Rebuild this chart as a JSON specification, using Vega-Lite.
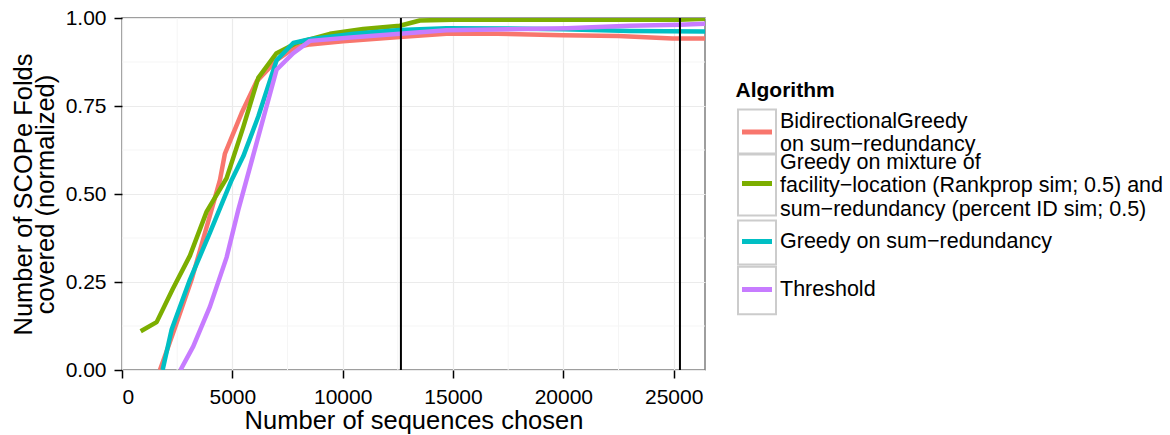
{
  "$schema": "https://vega.github.io/schema/vega-lite/v6.json",
  "width": 583,
  "height": 352,
  "autosize": {"type": "none"},
  "padding": {"left": 122, "top": 18, "right": 465, "bottom": 65},
  "background": "white",
  "config": {
    "font": "Liberation Sans",
    "view": {"stroke": "#7f7f7f", "strokeWidth": 1.5},
    "axis": {
      "domain": false,
      "gridColor": "#ebebeb",
      "gridWidth": 1.2,
      "tickColor": "black",
      "tickSize": 8,
      "tickWidth": 1.5,
      "labelColor": "black",
      "labelFontSize": 21,
      "labelFont": "Liberation Sans",
      "labelPadding": 8,
      "titleColor": "black",
      "titleFontSize": 25.5,
      "titleFontWeight": "normal",
      "titleFont": "Liberation Sans"
    },
    "legend": {
      "titleFont": "Liberation Sans",
      "labelFont": "Liberation Sans"
    }
  },
  "datasets": {
    "curves": [
      {"n": 1720, "v": 0.0, "a": "BidirectionalGreedy on sum−redundancy"},
      {"n": 2400, "v": 0.12, "a": "BidirectionalGreedy on sum−redundancy"},
      {"n": 3155, "v": 0.257, "a": "BidirectionalGreedy on sum−redundancy"},
      {"n": 3900, "v": 0.42, "a": "BidirectionalGreedy on sum−redundancy"},
      {"n": 4440, "v": 0.54, "a": "BidirectionalGreedy on sum−redundancy"},
      {"n": 4665, "v": 0.615, "a": "BidirectionalGreedy on sum−redundancy"},
      {"n": 5420, "v": 0.73, "a": "BidirectionalGreedy on sum−redundancy"},
      {"n": 6100, "v": 0.82, "a": "BidirectionalGreedy on sum−redundancy"},
      {"n": 7005, "v": 0.88, "a": "BidirectionalGreedy on sum−redundancy"},
      {"n": 7800, "v": 0.915, "a": "BidirectionalGreedy on sum−redundancy"},
      {"n": 8515, "v": 0.925, "a": "BidirectionalGreedy on sum−redundancy"},
      {"n": 10020, "v": 0.934, "a": "BidirectionalGreedy on sum−redundancy"},
      {"n": 12590, "v": 0.946, "a": "BidirectionalGreedy on sum−redundancy"},
      {"n": 14700, "v": 0.955, "a": "BidirectionalGreedy on sum−redundancy"},
      {"n": 17000, "v": 0.955, "a": "BidirectionalGreedy on sum−redundancy"},
      {"n": 19975, "v": 0.951, "a": "BidirectionalGreedy on sum−redundancy"},
      {"n": 22500, "v": 0.949, "a": "BidirectionalGreedy on sum−redundancy"},
      {"n": 24950, "v": 0.942, "a": "BidirectionalGreedy on sum−redundancy"},
      {"n": 26420, "v": 0.942, "a": "BidirectionalGreedy on sum−redundancy"},

      {"n": 847, "v": 0.110, "a": "Greedy on mixture of facility−location (Rankprop sim; 0.5) and sum−redundancy (percent ID sim; 0.5)"},
      {"n": 1570, "v": 0.136, "a": "Greedy on mixture of facility−location (Rankprop sim; 0.5) and sum−redundancy (percent ID sim; 0.5)"},
      {"n": 2300, "v": 0.23, "a": "Greedy on mixture of facility−location (Rankprop sim; 0.5) and sum−redundancy (percent ID sim; 0.5)"},
      {"n": 3080, "v": 0.325, "a": "Greedy on mixture of facility−location (Rankprop sim; 0.5) and sum−redundancy (percent ID sim; 0.5)"},
      {"n": 3835, "v": 0.45, "a": "Greedy on mixture of facility−location (Rankprop sim; 0.5) and sum−redundancy (percent ID sim; 0.5)"},
      {"n": 4740, "v": 0.545, "a": "Greedy on mixture of facility−location (Rankprop sim; 0.5) and sum−redundancy (percent ID sim; 0.5)"},
      {"n": 5495, "v": 0.69, "a": "Greedy on mixture of facility−location (Rankprop sim; 0.5) and sum−redundancy (percent ID sim; 0.5)"},
      {"n": 6175, "v": 0.83, "a": "Greedy on mixture of facility−location (Rankprop sim; 0.5) and sum−redundancy (percent ID sim; 0.5)"},
      {"n": 7005, "v": 0.90, "a": "Greedy on mixture of facility−location (Rankprop sim; 0.5) and sum−redundancy (percent ID sim; 0.5)"},
      {"n": 7910, "v": 0.929, "a": "Greedy on mixture of facility−location (Rankprop sim; 0.5) and sum−redundancy (percent ID sim; 0.5)"},
      {"n": 9420, "v": 0.955, "a": "Greedy on mixture of facility−location (Rankprop sim; 0.5) and sum−redundancy (percent ID sim; 0.5)"},
      {"n": 10930, "v": 0.969, "a": "Greedy on mixture of facility−location (Rankprop sim; 0.5) and sum−redundancy (percent ID sim; 0.5)"},
      {"n": 12590, "v": 0.978, "a": "Greedy on mixture of facility−location (Rankprop sim; 0.5) and sum−redundancy (percent ID sim; 0.5)"},
      {"n": 13500, "v": 0.993, "a": "Greedy on mixture of facility−location (Rankprop sim; 0.5) and sum−redundancy (percent ID sim; 0.5)"},
      {"n": 15000, "v": 0.995, "a": "Greedy on mixture of facility−location (Rankprop sim; 0.5) and sum−redundancy (percent ID sim; 0.5)"},
      {"n": 20000, "v": 0.995, "a": "Greedy on mixture of facility−location (Rankprop sim; 0.5) and sum−redundancy (percent ID sim; 0.5)"},
      {"n": 25285, "v": 0.995, "a": "Greedy on mixture of facility−location (Rankprop sim; 0.5) and sum−redundancy (percent ID sim; 0.5)"},
      {"n": 26420, "v": 0.998, "a": "Greedy on mixture of facility−location (Rankprop sim; 0.5) and sum−redundancy (percent ID sim; 0.5)"},

      {"n": 1840, "v": 0.0, "a": "Greedy on sum−redundancy"},
      {"n": 2250, "v": 0.115, "a": "Greedy on sum−redundancy"},
      {"n": 3080, "v": 0.257, "a": "Greedy on sum−redundancy"},
      {"n": 3985, "v": 0.39, "a": "Greedy on sum−redundancy"},
      {"n": 4970, "v": 0.54, "a": "Greedy on sum−redundancy"},
      {"n": 5495, "v": 0.607, "a": "Greedy on sum−redundancy"},
      {"n": 6175, "v": 0.72, "a": "Greedy on sum−redundancy"},
      {"n": 7005, "v": 0.88, "a": "Greedy on sum−redundancy"},
      {"n": 7760, "v": 0.929, "a": "Greedy on sum−redundancy"},
      {"n": 8515, "v": 0.94, "a": "Greedy on sum−redundancy"},
      {"n": 10500, "v": 0.955, "a": "Greedy on sum−redundancy"},
      {"n": 12590, "v": 0.966, "a": "Greedy on sum−redundancy"},
      {"n": 14700, "v": 0.971, "a": "Greedy on sum−redundancy"},
      {"n": 17500, "v": 0.970, "a": "Greedy on sum−redundancy"},
      {"n": 20000, "v": 0.968, "a": "Greedy on sum−redundancy"},
      {"n": 23000, "v": 0.963, "a": "Greedy on sum−redundancy"},
      {"n": 26420, "v": 0.962, "a": "Greedy on sum−redundancy"},

      {"n": 2650, "v": 0.0, "a": "Threshold"},
      {"n": 3230, "v": 0.067, "a": "Threshold"},
      {"n": 3985, "v": 0.18, "a": "Threshold"},
      {"n": 4740, "v": 0.32, "a": "Threshold"},
      {"n": 5270, "v": 0.455, "a": "Threshold"},
      {"n": 6100, "v": 0.645, "a": "Threshold"},
      {"n": 7005, "v": 0.853, "a": "Threshold"},
      {"n": 7760, "v": 0.90, "a": "Threshold"},
      {"n": 8515, "v": 0.935, "a": "Threshold"},
      {"n": 10500, "v": 0.945, "a": "Threshold"},
      {"n": 12590, "v": 0.955, "a": "Threshold"},
      {"n": 14700, "v": 0.965, "a": "Threshold"},
      {"n": 17500, "v": 0.968, "a": "Threshold"},
      {"n": 20150, "v": 0.971, "a": "Threshold"},
      {"n": 23000, "v": 0.978, "a": "Threshold"},
      {"n": 25285, "v": 0.981, "a": "Threshold"},
      {"n": 26420, "v": 0.984, "a": "Threshold"}
    ],
    "minorx": [{"n": 2500}, {"n": 7500}, {"n": 12500}, {"n": 17500}, {"n": 22500}],
    "minory": [{"v": 0.125}, {"v": 0.375}, {"v": 0.625}, {"v": 0.875}],
    "marks": [{"n": 12640}, {"n": 25285}]
  },
  "layer": [
    {
      "data": {"name": "minorx"},
      "mark": {"type": "rule", "color": "#f5f5f5", "strokeWidth": 1},
      "encoding": {
        "x": {
          "field": "n", "type": "quantitative",
          "scale": {"domain": [0, 26420], "nice": false, "zero": false},
          "axis": {"title": "Number of sequences chosen", "values": [0, 5000, 10000, 15000, 20000, 25000], "format": "d", "titlePadding": 1}
        }
      }
    },
    {
      "data": {"name": "minory"},
      "mark": {"type": "rule", "color": "#f5f5f5", "strokeWidth": 1},
      "encoding": {
        "y": {
          "field": "v", "type": "quantitative",
          "scale": {"domain": [0, 1], "nice": false},
          "axis": {"title": ["Number of SCOPe Folds", "covered (normalized)"], "values": [0, 0.25, 0.5, 0.75, 1], "format": ".2f", "titlePadding": 7, "titleLineHeight": 22}
        }
      }
    },
    {
      "data": {"name": "curves"},
      "mark": {"type": "point", "filled": true, "opacity": 0},
      "encoding": {
        "fill": {
          "field": "a", "type": "nominal",
          "scale": {"range": ["transparent", "transparent", "transparent", "transparent"]},
          "legend": {
            "title": "Algorithm",
            "orient": "none",
            "legendX": 613.5,
            "legendY": 61.5,
            "padding": 0,
            "titleFontSize": 21,
            "titleFontWeight": "bold",
            "titleColor": "black",
            "titleOpacity": 0,
            "titlePadding": 10,
            "labelFontSize": 21.5,
            "labelColor": "black",
            "labelOpacity": 0,
            "labelLimit": 500,
            "labelLineHeight": 21,
            "labelOffset": 1.5,
            "symbolSize": 1681,
            "symbolStrokeWidth": 2,
            "symbolStrokeColor": "#cccccc",
            "symbolOpacity": 1,
            "rowPadding": -10.5,
            "labelExpr": "datum.value == 'BidirectionalGreedy on sum−redundancy' ? ['BidirectionalGreedy', 'on sum−redundancy'] : (datum.value == 'Threshold' || datum.value == 'Greedy on sum−redundancy') ? datum.value : ['Greedy on mixture of', 'facility−location (Rankprop sim; 0.5) and', 'sum−redundancy (percent ID sim; 0.5)']",
            "encode": {
              "symbols": {
                "update": {
                  "opacity": {"value": 1},
                  "fill": {"value": "transparent"},
                  "stroke": {"value": "#cccccc"},
                  "strokeWidth": {"value": 2},
                  "shape": {"signal": "datum.index == 0 ? 'M-0.9268,-1.0976H0.9268V1.0976H-0.9268Z' : datum.index == 1 ? 'M-0.9268,-1.5122H0.9268V1.5122H-0.9268Z' : datum.index == 2 ? 'M-0.9268,-1.0732H0.9268V1.0732H-0.9268Z' : 'M-0.9268,-1.1585H0.9268V1.1585H-0.9268Z'"}
                }
              },
              "labels": {
                "update": {
                  "dy": {"signal": "datum.index == 0 ? -10.5 : datum.index == 1 ? -21 : 0"}
                }
              }
            }
          }
        }
      }
    },
    {
      "data": {"name": "curves"},
      "mark": {"type": "line", "strokeWidth": 4.5, "strokeJoin": "round", "clip": true},
      "encoding": {
        "x": {
          "field": "n", "type": "quantitative",
          "scale": {"domain": [0, 26420], "nice": false, "zero": false},
          "axis": {"title": "Number of sequences chosen", "values": [0, 5000, 10000, 15000, 20000, 25000], "format": "d", "titlePadding": 1}
        },
        "y": {
          "field": "v", "type": "quantitative",
          "scale": {"domain": [0, 1], "nice": false},
          "axis": {"title": ["Number of SCOPe Folds", "covered (normalized)"], "values": [0, 0.25, 0.5, 0.75, 1], "format": ".2f", "titlePadding": 7, "titleLineHeight": 22}
        },
        "color": {
          "field": "a", "type": "nominal",
          "scale": {
            "domain": ["BidirectionalGreedy on sum−redundancy", "Greedy on mixture of facility−location (Rankprop sim; 0.5) and sum−redundancy (percent ID sim; 0.5)", "Greedy on sum−redundancy", "Threshold"],
            "range": ["#F8766D", "#7CAE00", "#00BFC4", "#C77CFF"]
          },
          "legend": {
            "title": "Algorithm",
            "orient": "none",
            "legendX": 613.5,
            "legendY": 61.5,
            "padding": 0,
            "titleFontSize": 21,
            "titleFontWeight": "bold",
            "titleColor": "black",
            "titlePadding": 10,
            "labelFontSize": 21.5,
            "labelColor": "black",
            "labelLimit": 500,
            "labelLineHeight": 21,
            "labelOffset": 1.5,
            "symbolSize": 1444,
            "symbolStrokeWidth": 5,
            "rowPadding": -10.5,
            "labelExpr": "datum.value == 'BidirectionalGreedy on sum−redundancy' ? ['BidirectionalGreedy', 'on sum−redundancy'] : (datum.value == 'Threshold' || datum.value == 'Greedy on sum−redundancy') ? datum.value : ['Greedy on mixture of', 'facility−location (Rankprop sim; 0.5) and', 'sum−redundancy (percent ID sim; 0.5)']",
            "encode": {
              "symbols": {
                "update": {
                  "strokeWidth": {"value": 5},
                  "fill": {"value": "transparent"},
                  "shape": {"signal": "datum.index == 0 ? 'M-0.7895,0H0.7895M0,-0.8684L0,-0.8684M0,0.8684L0,0.8684' : datum.index == 1 ? 'M-0.7895,0H0.7895M0,-1.3158L0,-1.3158M0,1.3158L0,1.3158' : datum.index == 2 ? 'M-0.7895,0H0.7895M0,-0.8421L0,-0.8421M0,0.8421L0,0.8421' : 'M-0.7895,0H0.7895M0,-0.9342L0,-0.9342M0,0.9342L0,0.9342'"}
                }
              },
              "labels": {
                "update": {
                  "dy": {"signal": "datum.index == 0 ? -10.5 : datum.index == 1 ? -21 : 0"}
                }
              }
            }
          }
        },
        "order": {"field": "n", "type": "quantitative"}
      }
    },
    {
      "data": {"name": "marks"},
      "mark": {"type": "rule", "color": "black", "strokeWidth": 2},
      "encoding": {
        "x": {
          "field": "n", "type": "quantitative",
          "scale": {"domain": [0, 26420], "nice": false, "zero": false},
          "axis": {"title": "Number of sequences chosen", "values": [0, 5000, 10000, 15000, 20000, 25000], "format": "d", "titlePadding": 1}
        }
      }
    }
  ]
}
